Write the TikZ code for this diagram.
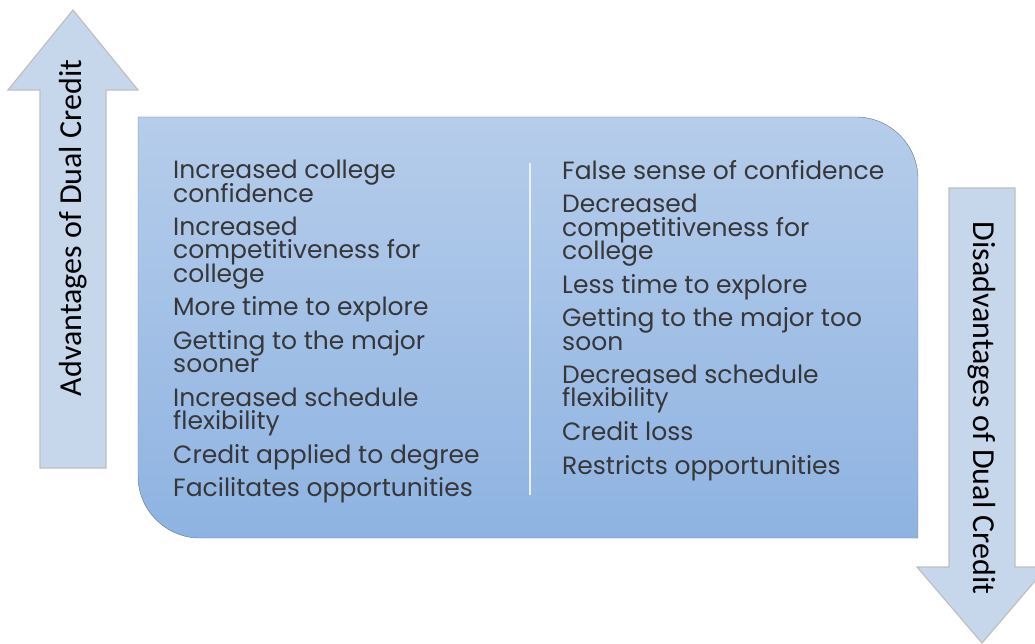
\documentclass[tikz,border=0pt]{standalone}
\usepackage{fontspec}
\setmainfont{Poppins}
\newfontfamily\labelfont{Carlito}
\newcommand\listfont{\fontsize{25}{23.3}\selectfont\lineskiplimit=-100pt\relax}
\definecolor{arrowblue}{RGB}{198,215,236}
\definecolor{boxtop}{RGB}{182,205,235}
\definecolor{boxbottom}{RGB}{142,179,225}
\definecolor{boxline}{RGB}{100,116,138}
\definecolor{listgray}{RGB}{55,55,58}
\tikzset{
  bigarrow/.style={fill=arrowblue, draw=black!25, line width=1.2pt},
  arrowlabel/.style={font=\labelfont\fontsize{32}{32}\selectfont, text=black, inner sep=0pt},
  itemlist/.style={font=\listfont, text=listgray, align=left, anchor=north west, inner sep=0pt}
}
\begin{document}
\begin{tikzpicture}[x=1pt,y=1pt]
\useasboundingbox (0,0) rectangle (1035,643);
\filldraw[bigarrow] (40,175) -- (40,553) -- (8,553) -- (73,633) -- (138,553) -- (106,553) -- (106,175) -- cycle;
\filldraw[bigarrow] (949,455) -- (949,76) -- (917,76) -- (982,0) -- (1047,76) -- (1015,76) -- (1015,455) -- cycle;
\path[draw=boxline, top color=boxtop, bottom color=boxbottom] (138,526) -- (856,526) arc[start angle=90, end angle=0, radius=62] -- (918,105) -- (200,105) arc[start angle=270, end angle=180, radius=62] -- cycle;
\draw[white!70!boxtop, line width=1.5pt] (530,480) -- (530,148);
\node[arrowlabel, rotate=90] (adv) at (73,415) {Advantages of Dual Credit};
\node[arrowlabel, rotate=-90] (disadv) at (982,235) {Disadvantages of Dual Credit};
\node[itemlist] (pros) at (173,483) {Increased college\\confidence\\[10.3pt]
  Increased\\competitiveness for\\college\\[10.3pt]
  More time to explore\\[10.3pt]
  Getting to the major\\sooner\\[10.3pt]
  Increased schedule\\flexibility\\[10.3pt]
  Credit applied to degree\\[10.3pt]
  Facilitates opportunities};
\node[itemlist] (cons) at (562,483) {False sense of confidence\\[10.3pt]
  Decreased\\competitiveness for\\college\\[10.3pt]
  Less time to explore\\[10.3pt]
  Getting to the major too\\soon\\[10.3pt]
  Decreased schedule\\flexibility\\[10.3pt]
  Credit loss\\[10.3pt]
  Restricts opportunities};
\end{tikzpicture}
\end{document}
